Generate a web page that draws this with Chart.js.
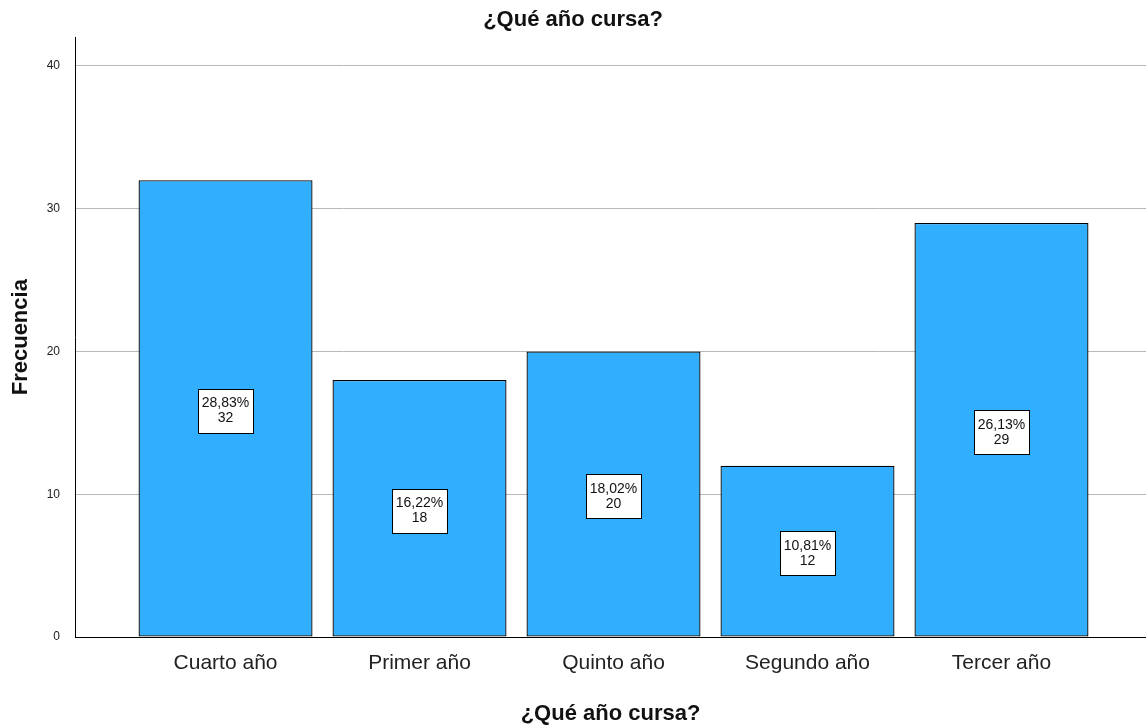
<!DOCTYPE html>
<html>
<head>
<meta charset="utf-8">
<script src="https://cdn.jsdelivr.net/npm/chart.js@4/dist/chart.umd.min.js"></script>
<style>
html,body{margin:0;padding:0;background:#fff;}
#wrap{width:1146px;height:728px;position:relative;}
</style>
</head>
<body>
<div id="wrap"><canvas id="c" width="1146" height="728"></canvas></div>
<script>
const categories = ['Cuarto año', 'Primer año', 'Quinto año', 'Segundo año', 'Tercer año'];
const counts = [32, 18, 20, 12, 29];
const percents = ['28,83%', '16,22%', '18,02%', '10,81%', '26,13%'];
const yTicks = [0, 10, 20, 30, 40];
const titleText = '¿Qué año cursa?';
const xTitle = '¿Qué año cursa?';
const yTitle = 'Frecuencia';

const FONT = "'Liberation Sans', Arial, sans-serif";

const labelPlugin = {
  id: 'boxLabels',
  afterDatasetsDraw(chart) {
    const ctx = chart.ctx;
    const meta = chart.getDatasetMeta(0);
    const ys = chart.scales.y;
    ctx.save();
    ctx.font = '14px ' + FONT;
    meta.data.forEach((bar, i) => {
      const cx = bar.x;
      const cy = ys.getPixelForValue(counts[i] / 2) + 2;
      const w = Math.max(ctx.measureText(percents[i]).width, ctx.measureText(String(counts[i])).width) + 8;
      const h = 44;
      const x0 = Math.round(cx - w / 2) + 0.5, y0 = Math.round(cy - h / 2) + 0.5;
      ctx.fillStyle = '#ffffff';
      ctx.fillRect(x0, y0, Math.round(w), h);
      ctx.strokeStyle = '#000000';
      ctx.lineWidth = 1;
      ctx.strokeRect(x0, y0, Math.round(w), h);
      ctx.fillStyle = '#111';
      ctx.textAlign = 'center';
      ctx.textBaseline = 'middle';
      ctx.fillText(percents[i], cx, cy - 7);
      ctx.fillText(String(counts[i]), cx, cy + 8);
    });
    ctx.restore();
  }
};

new Chart(document.getElementById('c'), {
  type: 'bar',
  data: {
    datasets: [{
      data: counts.map((v, i) => ({ x: i, y: v })),
      backgroundColor: '#31aefe',
      borderColor: '#000000',
      borderWidth: 1.3,
      borderSkipped: false,
      categoryPercentage: 1,
      barPercentage: 0.897
    }]
  },
  options: {
    responsive: false,
    animation: false,
    layout: { padding: { left: 0, right: 0, top: 0, bottom: 0 } },
    plugins: {
      legend: { display: false },
      tooltip: { enabled: false },
      title: {
        display: true,
        text: titleText,
        color: '#111',
        font: { family: FONT, size: 22, weight: 'bold', lineHeight: 1.2 },
        padding: { top: 7, bottom: 4 }
      }
    },
    scales: {
      x: {
        type: 'linear',
        offset: false,
        min: -0.776,
        max: 4.745,
        afterBuildTicks(scale) { scale.ticks = categories.map((c, i) => ({ value: i })); },
        afterFit(scale) { scale.height = 91; },
        grid: { display: false, drawTicks: false, offset: false },
        border: { display: true, color: '#000', width: 1 },
        ticks: {
          autoSkip: false,
          maxRotation: 0,
          padding: 14,
          color: '#222',
          font: { family: FONT, size: 21 },
          callback: (v) => categories[v] !== undefined ? categories[v] : ''
        },
        title: {
          display: true,
          text: xTitle,
          color: '#111',
          font: { family: FONT, size: 22, weight: 'bold', lineHeight: 1.2 },
          padding: { top: 0, bottom: 1 }
        }
      },
      y: {
        min: 0,
        max: 42,
        afterBuildTicks(scale) { scale.ticks = yTicks.map(v => ({ value: v })); },
        afterFit(scale) { scale.width = 75; },
        grid: { color: '#b8b8b8', lineWidth: 1, drawTicks: false },
        border: { display: true, color: '#000', width: 1 },
        ticks: {
          padding: 15,
          color: '#222',
          font: { family: FONT, size: 12 }
        },
        title: {
          display: true,
          text: yTitle,
          color: '#111',
          font: { family: FONT, size: 22, weight: 'bold', lineHeight: 1.2 },
          padding: { top: 8, bottom: 0 }
        }
      }
    }
  },
  plugins: [labelPlugin]
});
</script>
</body>
</html>
